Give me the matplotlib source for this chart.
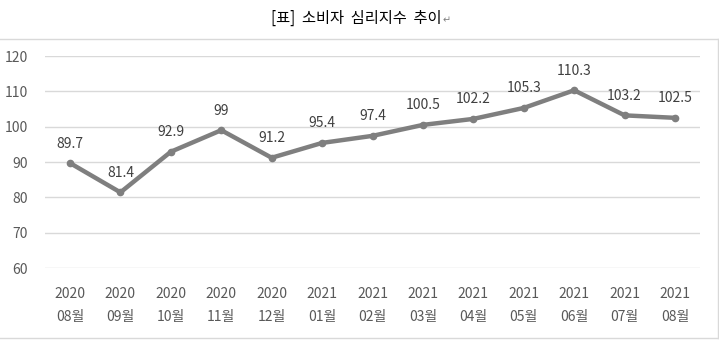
import matplotlib
matplotlib.use("Agg")
import matplotlib.pyplot as plt
from matplotlib.lines import Line2D

plt.rcParams['font.family'] = ['Noto Sans CJK KR', 'DejaVu Sans']

years = ["2020", "2020", "2020", "2020", "2020", "2021", "2021", "2021",
         "2021", "2021", "2021", "2021", "2021"]
months = ["08월", "09월", "10월", "11월", "12월", "01월", "02월", "03월",
          "04월", "05월", "06월", "07월", "08월"]
values = [89.7, 81.4, 92.9, 99, 91.2, 95.4, 97.4, 100.5, 102.2, 105.3,
          110.3, 103.2, 102.5]
value_labels = ["89.7", "81.4", "92.9", "99", "91.2", "95.4", "97.4", "100.5",
                "102.2", "105.3", "110.3", "103.2", "102.5"]
y_ticks = [60, 70, 80, 90, 100, 110, 120]

W, H = 719, 350
fig = plt.figure(figsize=(W / 100, H / 100), dpi=100)
ax = fig.add_axes([44.8 / W, 1 - 268 / H, (700.2 - 44.8) / W, (268 - 56) / H])

x = list(range(len(values)))
ax.plot(x, values, color="#7f7f7f", lw=3.2, marker="o", ms=4.5,
        solid_capstyle="round", solid_joinstyle="round", zorder=3)

for xi, v, lab in zip(x, values, value_labels):
    ax.annotate(lab, (xi, v), xytext=(0, 14), textcoords="offset points",
                ha="center", va="center", fontsize=10, color="#404040")

ax.set_xlim(-0.5, len(values) - 0.5)
ax.set_ylim(60, 120)
ax.set_yticks(y_ticks)
ax.yaxis.grid(True, color="#d9d9d9", lw=1.0)
ax.set_axisbelow(True)
for s in ax.spines.values():
    s.set_visible(False)
ax.tick_params(axis="y", length=0, pad=12, labelsize=10, labelcolor="#595959")
ax.set_xticks(x)
ax.set_xticklabels([f"{y}\n{m}" for y, m in zip(years, months)],
                   fontsize=10, color="#595959", linespacing=1.75)
ax.tick_params(axis="x", length=0, pad=14)

# chart frame
frame_kw = dict(color="#d9d9d9", lw=1.0, transform=fig.transFigure)
fig.add_artist(Line2D([0, 718 / W], [1 - 39 / H, 1 - 39 / H], **frame_kw))
fig.add_artist(Line2D([0, 718 / W], [1 - 338 / H, 1 - 338 / H], **frame_kw))
fig.add_artist(Line2D([718 / W, 718 / W], [1 - 39 / H, 1 - 338 / H], **frame_kw))

fig.text(356 / W, 1 - 18 / H, "[표]  소비자  심리지수  추이", ha="center", va="center",
         fontsize=11, color="#000000")
fig.text(443 / W, 1 - 20 / H, "↵", ha="left", va="center",
         fontsize=7, color="#808080", family="DejaVu Sans")

fig.savefig("out.png", dpi=100)
